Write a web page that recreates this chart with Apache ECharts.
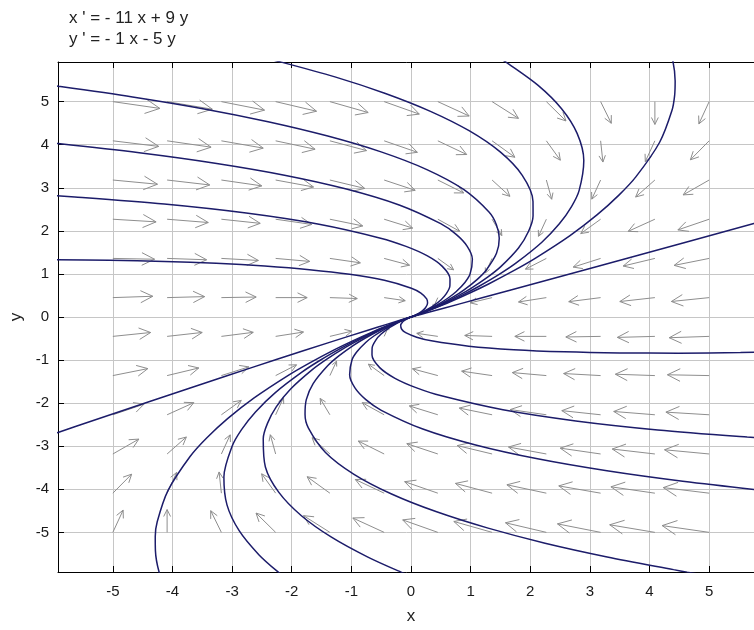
<!DOCTYPE html>
<html>
<head>
<meta charset="utf-8">
<script src="https://cdn.jsdelivr.net/npm/echarts@6/dist/echarts.min.js"></script>
<style>
  html, body { margin: 0; padding: 0; background: #fff; }
  #chart { width: 754px; height: 630px; }
</style>
</head>
<body>
<div id="chart"></div>
<script>
// system shown in the title: x' = -11x + 9y, y' = -1x - 5y
const xCoef = [-11, 9];
const yCoef = [-1, -5];
const titleLines = ["x ' = - 11 x + 9 y", "y ' = - 1 x - 5 y"];

// arrow grid (12 x 12 over [-5, 5])
const arrowXs = [-5, -4.09, -3.18, -2.27, -1.36, -0.45, 0.45, 1.36, 2.27, 3.18, 4.09, 5];
const arrowYs = [-5, -4.09, -3.18, -2.27, -1.36, -0.45, 0.45, 1.36, 2.27, 3.18, 4.09, 5];

// solution curves (all run into the origin)
const curveLeft1 = [[0,0],[0.066,0.032],[0.175,0.092],[0.299,0.166],[0.493,0.298],[0.717,0.472],[0.89,0.63],[1.107,0.869],[1.26,1.087],[1.434,1.478],[1.48,1.827],[1.432,2.144],[1.308,2.436],[0.882,2.961],[0.266,3.422],[-0.502,3.833],[-1.396,4.201],[-2.397,4.534],[-3.49,4.837],[-4.67,5.11],[-5.922,5.359],[-6.571,5.476]];
const curveLeft2 = [[0,0],[0.062,0.031],[0.162,0.087],[0.272,0.157],[0.439,0.28],[0.622,0.441],[0.755,0.585],[0.904,0.802],[0.99,0.997],[1.029,1.343],[0.94,1.647],[0.757,1.919],[0.498,2.166],[-0.198,2.601],[-1.084,2.972],[-2.122,3.293],[-3.286,3.571],[-4.557,3.814],[-5.92,4.027],[-6.637,4.121]];
const curveLeft3 = [[0,0],[0.057,0.029],[0.145,0.082],[0.238,0.146],[0.372,0.257],[0.505,0.402],[0.587,0.529],[0.652,0.718],[0.654,0.885],[0.525,1.175],[0.268,1.423],[-0.083,1.639],[-0.51,1.83],[-1.542,2.153],[-2.764,2.412],[-4.138,2.621],[-5.638,2.787],[-6.428,2.858]];
const curveLeft4 = [[0,0],[0.047,0.026],[0.113,0.071],[0.173,0.124],[0.243,0.214],[0.278,0.326],[0.263,0.421],[0.166,0.556],[0.006,0.669],[-0.447,0.851],[-1.028,0.991],[-1.703,1.099],[-2.454,1.182],[-3.266,1.245],[-4.134,1.289],[-5.05,1.317],[-6.004,1.332]];
const curveTop1 = [[0,0],[0.07,0.033],[0.188,0.096],[0.323,0.174],[0.543,0.314],[0.803,0.501],[1.013,0.671],[1.291,0.931],[1.506,1.169],[1.803,1.601],[1.972,1.991],[2.047,2.349],[2.046,2.682],[1.866,3.289],[1.496,3.832],[0.974,4.325],[0.326,4.775],[-0.429,5.19],[-1.276,5.575],[-2.21,5.93],[-2.705,6.098]];
const curveTop2 = [[0,0],[0.074,0.035],[0.2,0.1],[0.349,0.183],[0.594,0.331],[0.893,0.531],[1.142,0.714],[1.485,0.995],[1.764,1.255],[2.19,1.73],[2.488,2.163],[2.692,2.564],[2.82,2.94],[2.898,3.633],[2.786,4.262],[2.522,4.841],[2.132,5.377],[1.635,5.878],[1.498,5.999],[1.2,6.234]];
const curveTop3 = [[0,0],[0.079,0.036],[0.216,0.106],[0.381,0.194],[0.658,0.353],[1.004,0.568],[1.301,0.767],[1.723,1.075],[2.082,1.361],[2.667,1.889],[3.124,2.375],[3.487,2.829],[3.774,3.258],[4.17,4.057],[4.376,4.792],[4.421,5.14],[4.43,5.477],[4.389,5.963],[4.283,6.428]];
const curveUpRight = [[0,0],[0.092,0.034],[0.263,0.098],[0.833,0.311],[1.613,0.604],[3.123,1.174],[4.593,1.731],[5.75,2.17],[6.752,2.551]];
const curveLowLeft = [[0,0],[-0.132,-0.054],[-0.394,-0.165],[-0.736,-0.312],[-1.367,-0.589],[-2.246,-0.982],[-3.074,-1.358],[-4.383,-1.961],[-5.628,-2.543],[-5.92,-2.68],[-6.352,-2.884]];
const curveRight1 = [[0,0],[-0.042,-0.024],[-0.095,-0.065],[-0.139,-0.113],[-0.173,-0.191],[-0.156,-0.285],[-0.089,-0.363],[0.095,-0.469],[0.342,-0.553],[0.969,-0.677],[1.724,-0.759],[2.573,-0.809],[3.498,-0.834],[4.484,-0.839],[5.526,-0.825],[6.065,-0.812]];
const curveRight2 = [[0,0],[-0.057,-0.029],[-0.145,-0.082],[-0.238,-0.146],[-0.372,-0.257],[-0.505,-0.402],[-0.587,-0.529],[-0.652,-0.718],[-0.654,-0.885],[-0.525,-1.175],[-0.268,-1.423],[0.083,-1.639],[0.51,-1.83],[1.542,-2.153],[2.764,-2.412],[4.138,-2.621],[5.638,-2.787],[6.428,-2.858]];
const curveRight3 = [[0,0],[-0.062,-0.031],[-0.162,-0.087],[-0.272,-0.157],[-0.439,-0.28],[-0.622,-0.441],[-0.755,-0.585],[-0.904,-0.802],[-0.99,-0.997],[-1.029,-1.343],[-0.94,-1.647],[-0.757,-1.919],[-0.498,-2.166],[0.198,-2.601],[1.084,-2.972],[2.122,-3.293],[3.286,-3.571],[4.557,-3.814],[5.92,-4.027],[6.637,-4.121]];
const curveBottom1 = [[0,0],[-0.068,-0.033],[-0.182,-0.094],[-0.313,-0.171],[-0.521,-0.307],[-0.765,-0.488],[-0.959,-0.653],[-1.21,-0.904],[-1.398,-1.133],[-1.641,-1.547],[-1.756,-1.919],[-1.777,-2.259],[-1.722,-2.574],[-1.434,-3.145],[-0.956,-3.652],[-0.326,-4.109],[0.43,-4.523],[1.293,-4.902],[2.248,-5.251],[3.29,-5.57],[4.404,-5.865],[4.632,-5.923],[4.984,-6.005]];
const curveBottom2 = [[0,0],[-0.072,-0.034],[-0.195,-0.098],[-0.338,-0.179],[-0.571,-0.324],[-0.853,-0.518],[-1.085,-0.695],[-1.399,-0.967],[-1.65,-1.217],[-2.019,-1.673],[-2.26,-2.087],[-2.407,-2.469],[-2.478,-2.826],[-2.442,-3.481],[-2.216,-4.072],[-1.838,-4.613],[-1.334,-5.111],[-0.723,-5.574],[-0.167,-5.922],[0.168,-6.111]];
const curveBottom3 = [[0,0],[-0.075,-0.035],[-0.204,-0.101],[-0.355,-0.185],[-0.606,-0.335],[-0.914,-0.538],[-1.172,-0.724],[-1.53,-1.01],[-1.824,-1.275],[-2.28,-1.76],[-2.608,-2.203],[-2.842,-2.614],[-3.0,-3.0],[-3.138,-3.713],[-3.086,-4.362],[-2.882,-4.961],[-2.552,-5.517],[-2.235,-5.912],[-1.993,-6.164]];
const curveBottom4 = [[0,0],[-0.078,-0.036],[-0.215,-0.105],[-0.379,-0.193],[-0.653,-0.351],[-0.996,-0.565],[-1.289,-0.763],[-1.705,-1.069],[-2.058,-1.353],[-2.631,-1.877],[-3.076,-2.359],[-3.427,-2.809],[-3.702,-3.234],[-4.074,-4.025],[-4.256,-4.752],[-4.289,-5.096],[-4.286,-5.429],[-4.227,-5.909],[-4.103,-6.368]];

const curves = [
  curveLeft1, curveLeft2, curveLeft3, curveLeft4,
  curveTop1, curveTop2, curveTop3, curveUpRight,
  curveLowLeft, curveRight1, curveRight2, curveRight3,
  curveBottom1, curveBottom2, curveBottom3, curveBottom4
];

const arrowPoints = [];
arrowXs.forEach((x) => {
  arrowYs.forEach((y) => arrowPoints.push([x, y]));
});

const arrowColor = "#8e8e8e";
const curveColor = "#1c1c6a";
const fontName = "Liberation Sans, Arial, sans-serif";

function renderArrow(params, api) {
  const x = api.value(0);
  const y = api.value(1);
  const u = xCoef[0] * x + xCoef[1] * y;
  const v = yCoef[0] * x + yCoef[1] * y;
  const mag = Math.sqrt(u * u + v * v);
  if (mag < 1e-9) return;
  const len = 0.172 * Math.cbrt(mag); // longer arrows where the flow is faster
  const p0 = api.coord([x, y]);
  const p1 = api.coord([x + (len * u) / mag, y + (len * v) / mag]);
  const dx = p1[0] - p0[0];
  const dy = p1[1] - p0[1];
  const d = Math.hypot(dx, dy);
  const hl = d * 0.34;
  const ang = Math.atan2(dy, dx);
  const a1 = ang + Math.PI - 0.46;
  const a2 = ang + Math.PI + 0.46;
  const h1 = [p1[0] + hl * Math.cos(a1), p1[1] + hl * Math.sin(a1)];
  const h2 = [p1[0] + hl * Math.cos(a2), p1[1] + hl * Math.sin(a2)];
  return {
    type: "group",
    children: [
      {
        type: "line",
        shape: { x1: p0[0], y1: p0[1], x2: p1[0], y2: p1[1] },
        style: { stroke: arrowColor, lineWidth: 1 },
      },
      {
        type: "polyline",
        shape: { points: [h1, p1, h2] },
        style: { stroke: arrowColor, lineWidth: 1, fill: null },
      },
    ],
  };
}

function intLabel(v) {
  const r = Math.round(v);
  return Math.abs(v - r) < 1e-6 ? String(r) : "";
}

const baseAxis = {
  type: "value",
  min: -5.92,
  max: 5.92,
  minInterval: 1,
  maxInterval: 1,
  axisLine: { show: true, onZero: false, lineStyle: { color: "#000", width: 1 } },
  axisTick: { show: true, inside: true, length: 6, lineStyle: { color: "#000" } },
};

const option = {
  animation: false,
  backgroundColor: "#fff",
  title: {
    text: titleLines.join("\n"),
    left: 64,
    top: 3,
    textStyle: {
      fontSize: 17,
      fontWeight: "normal",
      color: "#222",
      lineHeight: 21,
      fontFamily: fontName,
    },
  },
  grid: { left: 58, top: 62, width: 706, height: 510, outerBoundsMode: "none", containLabel: false },
  xAxis: [
    Object.assign({}, baseAxis, {
      position: "bottom",
      name: "x",
      nameLocation: "middle",
      nameGap: 36,
      nameTextStyle: { fontSize: 17, color: "#222", fontFamily: fontName },
      axisLabel: { fontSize: 15, color: "#1a1a1a", margin: 12, formatter: intLabel, fontFamily: fontName },
      splitLine: { show: true, lineStyle: { color: "#c6c6c6", width: 1 } },
    }),
    Object.assign({}, baseAxis, {
      position: "top",
      axisLabel: { show: false },
      splitLine: { show: false },
    }),
  ],
  yAxis: [
    Object.assign({}, baseAxis, {
      position: "left",
      name: "y",
      nameLocation: "middle",
      nameGap: 31,
      nameRotate: 90,
      nameTextStyle: { fontSize: 17, color: "#222", fontFamily: fontName },
      axisLabel: { fontSize: 15, color: "#1a1a1a", margin: 9, formatter: intLabel, fontFamily: fontName },
      splitLine: { show: true, lineStyle: { color: "#c6c6c6", width: 1 } },
    }),
  ],
  series: [
    {
      type: "custom",
      renderItem: renderArrow,
      data: arrowPoints,
      silent: true,
      z: 1,
    },
  ].concat(
    curves.map((pts) => ({
      type: "line",
      data: pts,
      showSymbol: false,
      symbol: "none",
      smooth: 0.3,
      clip: true,
      silent: true,
      z: 2,
      lineStyle: { color: curveColor, width: 1.5 },
    }))
  ),
};

const myChart = echarts.init(document.getElementById("chart"));
myChart.setOption(option);
</script>
</body>
</html>
